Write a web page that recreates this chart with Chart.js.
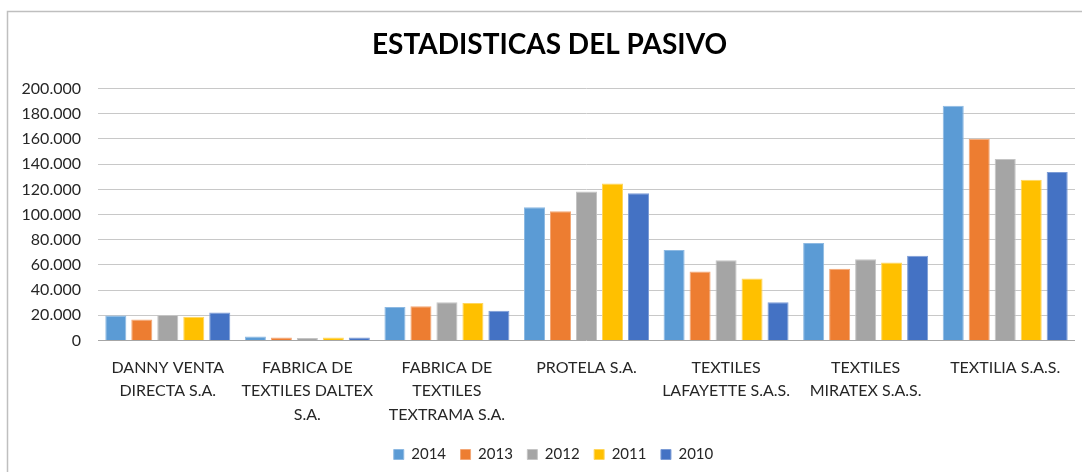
<!DOCTYPE html>
<html>
<head>
<meta charset="utf-8">
<script src="https://cdn.jsdelivr.net/npm/chart.js@4/dist/chart.umd.min.js"></script>
<style>
  html, body { margin: 0; padding: 0; background: #ffffff; }
  #wrap { width: 1082px; height: 472px; position: relative; }
</style>
</head>
<body>
<div id="wrap"><canvas id="c"></canvas></div>
<script>
const title = 'ESTADISTICAS DEL PASIVO';
const categories = [
  ['DANNY VENTA', 'DIRECTA S.A.'],
  ['FABRICA DE', 'TEXTILES DALTEX', 'S.A.'],
  ['FABRICA DE', 'TEXTILES', 'TEXTRAMA S.A.'],
  ['PROTELA S.A.'],
  ['TEXTILES', 'LAFAYETTE S.A.S.'],
  ['TEXTILES', 'MIRATEX S.A.S.'],
  ['TEXTILIA S.A.S.']
];
const seriesNames = ['2014', '2013', '2012', '2011', '2010'];
const v2014 = [19800, 3200, 26600, 105800, 71800, 77400, 186400];
const v2013 = [16700, 2400, 27100, 102600, 54800, 56900, 160100];
const v2012 = [20200, 1900, 30300, 118300, 63800, 64600, 144100];
const v2011 = [18900, 2400, 29800, 124700, 49200, 62000, 127600];
const v2010 = [22300, 2400, 23700, 117000, 30300, 67300, 133800];
const yTicks = [0, 20000, 40000, 60000, 80000, 100000, 120000, 140000, 160000, 180000, 200000];

const colors = ['#5B9BD5', '#ED7D31', '#A5A5A5', '#FFC000', '#4472C4'];
const borders = ['#8DB9E2', '#F3A776', '#C4C4C4', '#FFD65C', '#7C9CD6'];
const seriesValues = [v2014, v2013, v2012, v2011, v2010];

function fmt(v) {
  return String(v).replace(/\B(?=(\d{3})+(?!\d))/g, '.');
}

const framePlugin = {
  id: 'frame',
  afterLayout(chart) {
    // the original frame extends past the right edge, so its centre is a bit right of the canvas centre
    if (chart.titleBlock) { chart.titleBlock.left += 8; chart.titleBlock.right += 8; }
    if (chart.legend) { chart.legend.left += 12; chart.legend.right += 12; }
  },
  beforeDraw(chart) {
    const ctx = chart.ctx;
    ctx.save();
    ctx.fillStyle = '#ffffff';
    ctx.fillRect(0, 0, chart.width, chart.height);
    ctx.strokeStyle = '#BFBFBF';
    ctx.lineWidth = 1.5;
    ctx.beginPath();
    ctx.moveTo(7.5, chart.height);
    ctx.lineTo(7.5, 11.5);
    ctx.lineTo(chart.width, 11.5);
    ctx.stroke();
    ctx.restore();
  }
};

new Chart(document.getElementById('c'), {
  type: 'bar',
  data: {
    labels: categories,
    datasets: seriesNames.map((name, i) => ({
      label: name,
      data: seriesValues[i],
      backgroundColor: colors[i],
      borderColor: borders[i],
      borderWidth: 1,
      categoryPercentage: 0.931,
      barPercentage: 0.81
    }))
  },
  options: {
    responsive: true,
    maintainAspectRatio: false,
    animation: false,
    devicePixelRatio: 1,
    layout: { padding: { left: 8, right: 7, top: 0, bottom: 0 } },
    plugins: {
      title: {
        display: true,
        text: title,
        color: '#000000',
        font: { family: 'Lato', size: 28, weight: 'bold', lineHeight: 1.2 },
        padding: { top: 28, bottom: 27 }
      },
      legend: {
        position: 'bottom',
        labels: {
          boxWidth: 10,
          boxHeight: 10,
          padding: 14.5,
          color: '#262626',
          font: { family: 'Lato', size: 15 }
        }
      },
      tooltip: { enabled: false }
    },
    scales: {
      x: {
        grid: { display: false },
        border: { display: false },
        ticks: {
          color: '#262626',
          font: { family: 'Lato', size: 16, lineHeight: 1.45 },
          padding: 8,
          maxRotation: 0,
          autoSkip: false
        },
        afterFit(scale) { scale.height = 92; }
      },
      y: {
        min: 0,
        max: 200000,
        afterBuildTicks(scale) { scale.ticks = yTicks.map(v => ({ value: v })); },
        border: { display: false },
        grid: {
          drawTicks: false,
          lineWidth: 1,
          color: (ctx) => ctx.tick && ctx.tick.value === 0 ? '#A6A6A6' : '#C8C8C8'
        },
        ticks: {
          color: '#262626',
          font: { family: 'Lato', size: 16 },
          padding: 17,
          callback: (v) => fmt(v)
        },
        afterFit(scale) { scale.width = 90; }
      }
    }
  },
  plugins: [framePlugin]
});
</script>
</body>
</html>
